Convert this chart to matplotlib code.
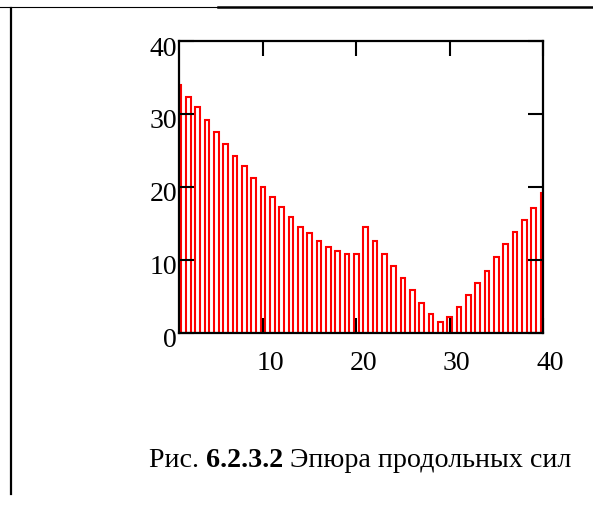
import numpy as np
import matplotlib
matplotlib.use('Agg')
import matplotlib.pyplot as plt
from matplotlib.lines import Line2D
from matplotlib.transforms import ScaledTranslation

#===============================
# data
sections = list(range(1, 41))
forces = [34.0, 32.3, 30.9, 29.2, 27.5, 25.8, 24.2, 22.9, 21.2, 19.9,
          18.6, 17.2, 15.85, 14.5, 13.6, 12.5, 11.8, 11.2, 10.8, 10.8,
          14.5, 12.5, 10.8, 9.1, 7.5, 5.9, 4.1, 2.5, 1.4, 2.1,
          3.5, 5.1, 6.8, 8.4, 10.4, 12.2, 13.8, 15.5, 17.1, 19.1]
xticks = [10, 20, 30, 40]
yticks = [0, 10, 20, 30, 40]
caption_parts = [("Рис. ", "normal"), ("6.2.3.2", "bold"), (" Эпюра продольных сил", "normal")]

plt.rcParams['font.family'] = ['Liberation Serif', 'DejaVu Serif']

W, H = 593, 507

#==================================
def DrawFig():
  fig = plt.figure(figsize=(W / 100., H / 100.), dpi=100)
  ax = fig.add_axes([179. / W, 1 - 332.5 / H, 364. / W, 291.5 / H])

  ax.bar(sections, forces, width=0.5, facecolor='white', edgecolor='red',
         linewidth=1.5, zorder=1)

  ax.set_xlim(1, 40)
  ax.set_ylim(0, 40)
  ax.set_xticks(xticks)
  ax.set_yticks(yticks)
  ax.tick_params(direction='in', length=10.5, width=1.5, top=True, right=True,
                 labelsize=20, colors='black')
  ax.tick_params(axis='y', pad=1.5)
  ax.tick_params(axis='x', pad=13)
  for side in ['left', 'right', 'top', 'bottom']:
    ax.spines[side].set_linewidth(1.6)
    ax.spines[side].set_zorder(3)

  # Mathcad puts its labels a bit off the ticks
  for lab in ax.get_xticklabels():
    lab.set_transform(lab.get_transform() + ScaledTranslation(7 / 100., 0, fig.dpi_scale_trans))
  for lab in ax.get_yticklabels():
    lab.set_transform(lab.get_transform() + ScaledTranslation(0, -5 / 100., fig.dpi_scale_trans))

  # page frame lines
  fig.add_artist(Line2D([0, 219. / W], [1 - 7. / H, 1 - 7. / H], color='black', lw=0.8))
  fig.add_artist(Line2D([218. / W, 1], [1 - 6.5 / H, 1 - 6.5 / H], color='black', lw=1.8))
  fig.add_artist(Line2D([11. / W, 11. / W], [1 - 7.5 / H, 1 - 494. / H], color='black', lw=1.6))

  # caption with bold number
  prev = fig.text(149. / W, 1 - 467. / H, caption_parts[0][0], fontsize=20.2,
                  fontweight=caption_parts[0][1], va='baseline', ha='left')
  for txt, wgt in caption_parts[1:]:
    prev = ax.annotate(txt, xy=(1, 0), xycoords=prev, va='bottom', ha='left',
                       fontsize=20.2, fontweight=wgt, annotation_clip=False)

  plt.savefig('out.png', dpi=100)
  return

#==================================
def main():
  DrawFig()
  return

if __name__ == '__main__':
  main()
